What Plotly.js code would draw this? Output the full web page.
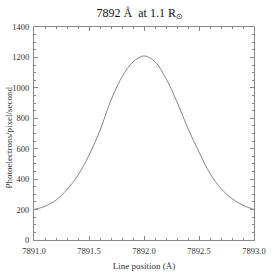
<!DOCTYPE html>
<html>
<head>
<meta charset="utf-8">
<script src="https://cdn.plot.ly/plotly-3.0.1.min.js"></script>
<style>html,body{margin:0;padding:0;background:#fff;}#chart{width:274px;height:274px;}</style>
</head>
<body>
<div id="chart"></div>
<script>
// Line position (Å)
const linePosition = [7891.0, 7891.1, 7891.2, 7891.3, 7891.4, 7891.5, 7891.6, 7891.7, 7891.8, 7891.9, 7892.0, 7892.1, 7892.2, 7892.3, 7892.4, 7892.5, 7892.6, 7892.7, 7892.8, 7892.9, 7893.0];
// Photoelectrons/pixel/second
const photoelectrons = [200, 222, 262, 332, 426, 557, 721, 919, 1072, 1170, 1210, 1172, 1061, 908, 732, 579, 437, 338, 272, 228, 200];

const titleText = '7892 Å  at 1.1 R<sub>⊙</sub>';
const xTitle = 'Line position (Å)';
const yTitle = 'Photoelectrons/pixel/second';

const serif = 'Liberation Serif, Times New Roman, serif';

const trace = {
  x: linePosition,
  y: photoelectrons,
  type: 'scatter',
  mode: 'lines',
  line: {color: '#666', width: 0.8, shape: 'spline', smoothing: 1},
  hoverinfo: 'skip'
};

const axisCommon = {
  showgrid: false,
  zeroline: false,
  showline: true,
  linecolor: '#888',
  linewidth: 1,
  mirror: 'allticks',
  ticks: 'inside',
  ticklen: 4,
  tickwidth: 1,
  tickcolor: '#888',
  tickfont: {family: serif, size: 8.5, color: '#333'}
};

const layout = {
  width: 274,
  height: 274,
  margin: {l: 34, r: 20, t: 27, b: 34, pad: 0},
  paper_bgcolor: '#fff',
  plot_bgcolor: '#fff',
  showlegend: false,
  title: {
    text: titleText,
    font: {family: serif, size: 12, color: '#111'},
    x: 0.51, xref: 'container', xanchor: 'center',
    y: 0.955, yref: 'container', yanchor: 'middle'
  },
  xaxis: Object.assign({}, axisCommon, {
    range: [7891.0, 7893.0],
    dtick: 0.5,
    tick0: 7891.0,
    tickformat: '.1f',
    ticklabelstandoff: 3,
    minor: {dtick: 0.1, ticks: 'inside', ticklen: 2, tickcolor: '#888', showgrid: false},
    title: {text: xTitle, font: {family: serif, size: 9, color: '#333'}, standoff: 7}
  }),
  yaxis: Object.assign({}, axisCommon, {
    range: [0, 1400],
    dtick: 200,
    tick0: 0,
    ticklabelstandoff: 2,
    minor: {dtick: 50, ticks: 'inside', ticklen: 2, tickcolor: '#888', showgrid: false}
  }),
  annotations: [{
    text: yTitle,
    xref: 'paper', yref: 'paper',
    x: -0.115, y: 0.48,
    xanchor: 'center', yanchor: 'middle',
    textangle: -90,
    showarrow: false,
    font: {family: serif, size: 9, color: '#333'}
  }]
};

Plotly.newPlot('chart', [trace], layout, {staticPlot: true, displayModeBar: false});
</script>
</body>
</html>
